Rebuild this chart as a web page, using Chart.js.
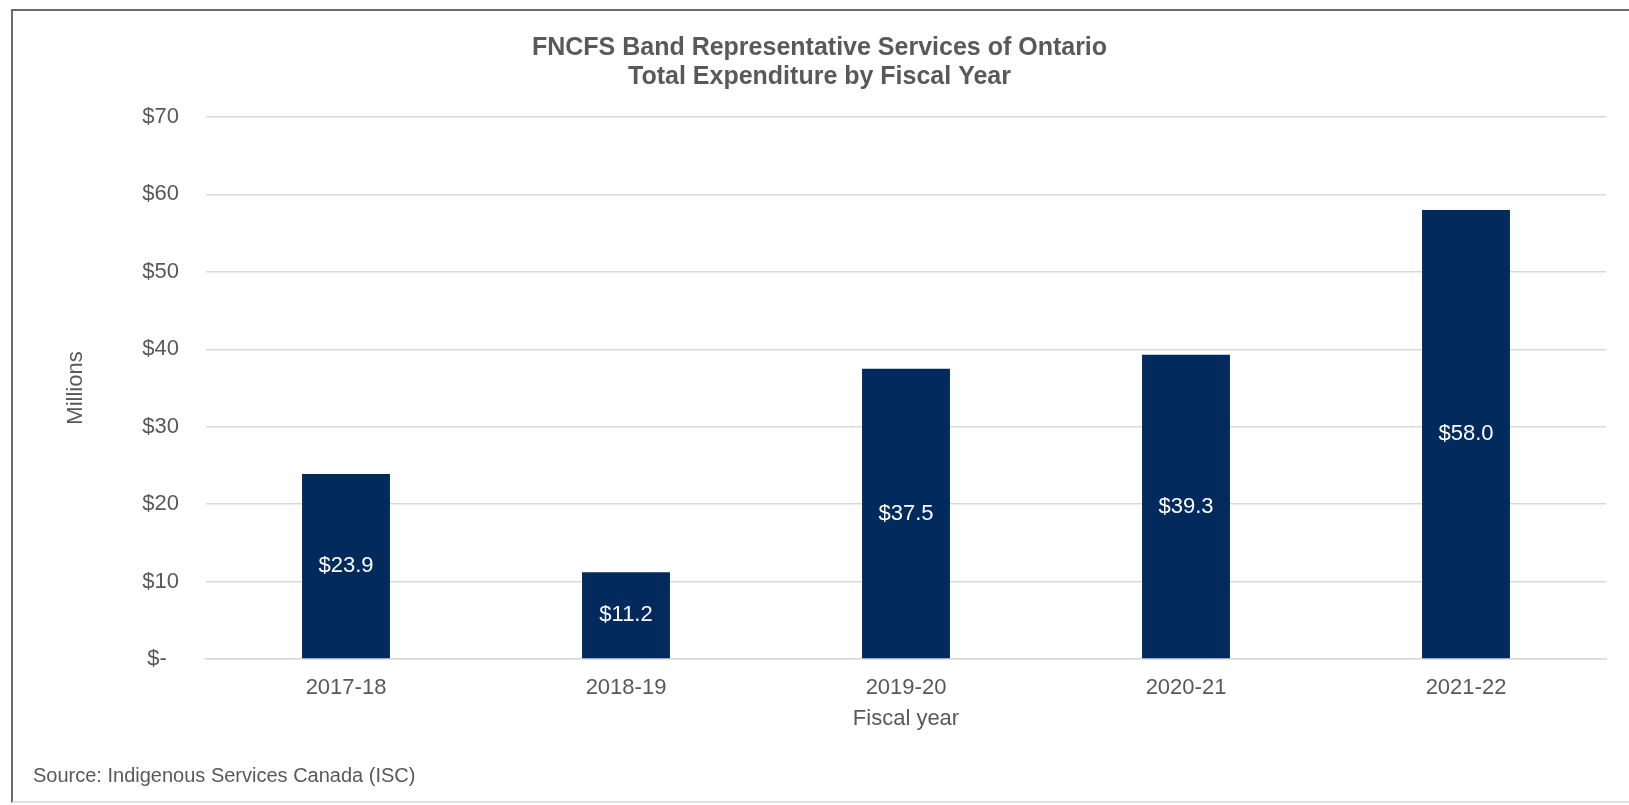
<!DOCTYPE html>
<html>
<head>
<meta charset="utf-8">
<title>FNCFS Band Representative Services of Ontario</title>
<script src="https://cdn.jsdelivr.net/npm/chart.js@4"></script>
<style>
body { margin:0; background:#fff; overflow:hidden; }
#cadre { position:absolute; left:11px; top:9px; width:1640px; height:790px;
  border-top:2px solid #6b6b6b; border-left:2px solid #6b6b6b; border-bottom:2px solid #e2e2e2; }
#graphDepenses { position:absolute; left:0; top:0; }
</style>
</head>
<body>
<div id="cadre"></div>
<canvas id="graphDepenses" width="1629" height="805"></canvas>
<script>

/* Données (en millions $) */

const annees = ["2017-18", "2018-19", "2019-20", "2020-21", "2021-22"];
const depenses = [23.9, 11.2, 37.5, 39.3, 58.0];
const graduations = [0, 10, 20, 30, 40, 50, 60, 70];

const gris = "#595959";
const police = "'Liberation Sans', Arial, sans-serif";

/* étiquettes blanches au milieu des barres */

const etiquettes = {
id:"etiquettes",
afterDatasetsDraw(chart){
const ctx = chart.ctx;
const meta = chart.getDatasetMeta(0);
ctx.save();
ctx.fillStyle = "#ffffff";
ctx.font = "22px " + police;
ctx.textAlign = "center";
ctx.textBaseline = "middle";
meta.data.forEach((barre, i) => {
ctx.fillText("$" + depenses[i].toFixed(1), barre.x, (barre.y + barre.base) / 2);
});
ctx.restore();
}
};

const ctx = document.getElementById("graphDepenses").getContext("2d");

new Chart(ctx, {
type:"bar",
data:{
labels:annees,
datasets:[{
data:depenses,
backgroundColor:"#032a5c",
categoryPercentage:1,
barPercentage:0.314
}]
},
options:{
responsive:false,
animation:false,
layout:{padding:{top:13, left:33, right:23, bottom:0}},
plugins:{
legend:{display:false},
tooltip:{enabled:false},
title:{
display:true,
text:["FNCFS Band Representative Services of Ontario", "Total Expenditure by Fiscal Year"],
color:gris,
font:{family:police, size:25, weight:"bold", lineHeight:1.16},
padding:{top:20.5, bottom:25.5}
},
subtitle:{
display:true,
position:"bottom",
align:"start",
text:"Source: Indigenous Services Canada (ISC)",
color:gris,
font:{family:police, size:20, lineHeight:1.2},
padding:{top:23.8, bottom:17}
}
},
scales:{
x:{
grid:{display:false, drawTicks:false},
border:{color:"#d9d9d9", width:1.5},
ticks:{color:gris, font:{family:police, size:22}, padding:16},
title:{display:true, text:"Fiscal year", color:gris, font:{family:police, size:22, lineHeight:1.2}, padding:{top:-11.6, bottom:8}}
},
y:{
min:0,
max:70,
afterBuildTicks(scale){ scale.ticks = graduations.map(v => ({value:v})); },
afterFit(scale){ scale.width = 173; },
grid:{color:"#d9d9d9", lineWidth:1.5, drawTicks:false},
border:{display:false},
ticks:{
color:gris,
font:{family:police, size:22},
padding:27,
callback:function(v){ return v === 0 ? "$-  " : "$" + v; }
},
title:{display:true, text:"Millions", color:gris, font:{family:police, size:22, lineHeight:1.2}, padding:{top:30, bottom:0}}
}
}
},
plugins:[etiquettes]
});

</script>
</body>
</html>
